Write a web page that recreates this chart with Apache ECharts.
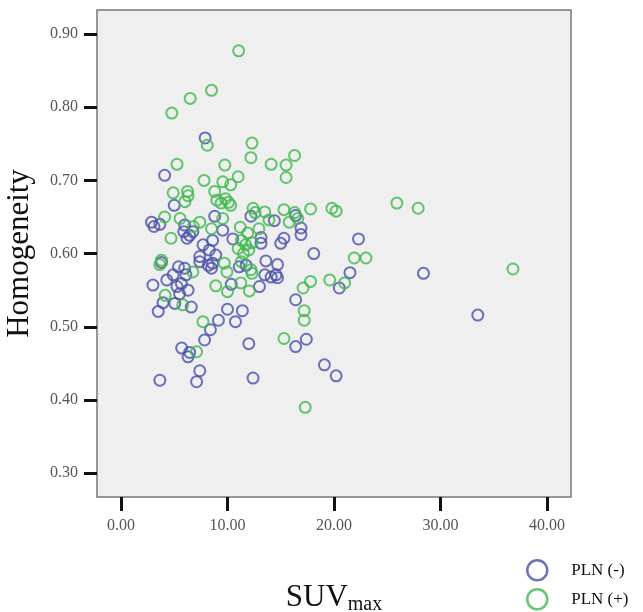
<!DOCTYPE html>
<html lang="en">
<head>
  <meta charset="UTF-8">
  <title>Homogeneity vs SUVmax</title>
  <script src="https://cdn.jsdelivr.net/npm/echarts@6/dist/echarts.min.js"></script>
  <style>
    html, body { margin: 0; padding: 0; background: #fff; }
    #chart { width: 643px; height: 612px; }
  </style>
</head>
<body>
  <div id="chart"></div>
  <script>
    // ticks
    var xTicks = [0, 10, 20, 30, 40];
    var yTicks = [0.3, 0.4, 0.5, 0.6, 0.7, 0.8, 0.9];

    // PLN (-) : [SUVmax, homogeneity]
    var plnNeg = [
      [7.9, 0.758], [4.1, 0.707], [5.0, 0.666], [2.87, 0.643], [3.1, 0.637],
      [3.65, 0.640], [5.98, 0.639], [5.9, 0.630], [6.45, 0.625], [6.2, 0.621],
      [6.75, 0.630], [8.8, 0.651], [9.55, 0.632], [8.6, 0.618], [7.7, 0.612],
      [7.4, 0.596], [8.3, 0.605], [8.9, 0.598], [10.5, 0.620], [12.2, 0.651],
      [13.15, 0.622], [13.15, 0.614], [14.4, 0.645], [16.4, 0.652], [16.9, 0.635],
      [16.9, 0.626], [15.3, 0.621], [15.0, 0.614], [18.1, 0.600], [22.3, 0.620],
      [21.5, 0.574], [28.4, 0.573], [20.5, 0.553], [16.4, 0.537], [17.4, 0.483],
      [16.4, 0.473], [33.5, 0.516], [19.1, 0.448], [20.2, 0.433], [12.4, 0.430],
      [12.0, 0.477], [10.0, 0.524], [11.4, 0.522], [9.15, 0.509], [10.75, 0.507],
      [8.4, 0.496], [7.85, 0.482], [5.7, 0.471], [6.45, 0.465], [6.3, 0.459],
      [7.4, 0.440], [7.1, 0.425], [3.65, 0.427], [3.8, 0.588], [5.4, 0.582],
      [5.98, 0.580], [7.4, 0.589], [8.2, 0.584], [8.6, 0.587], [3.0, 0.557],
      [4.3, 0.564], [4.9, 0.571], [5.26, 0.555], [5.67, 0.559], [6.3, 0.550],
      [5.05, 0.532], [3.95, 0.533], [3.5, 0.521], [6.6, 0.527], [11.1, 0.582],
      [11.75, 0.584], [13.6, 0.590], [14.7, 0.585], [13.5, 0.571], [14.1, 0.568],
      [14.55, 0.571], [14.7, 0.567], [10.35, 0.558], [13.0, 0.555], [6.1, 0.571],
      [5.5, 0.545], [8.5, 0.580]
    ];

    // PLN (+) : [SUVmax, homogeneity]
    var plnPos = [
      [11.05, 0.877], [8.5, 0.823], [6.5, 0.812], [4.77, 0.792], [8.1, 0.748],
      [12.3, 0.751], [12.2, 0.731], [16.3, 0.734], [14.1, 0.722], [15.5, 0.721],
      [15.5, 0.704], [5.26, 0.722], [7.8, 0.700], [9.75, 0.721], [11.0, 0.705],
      [9.56, 0.698], [10.3, 0.694], [4.9, 0.683], [6.25, 0.685], [6.3, 0.679],
      [6.0, 0.671], [8.8, 0.685], [9.0, 0.673], [9.4, 0.669], [9.8, 0.675],
      [10.1, 0.670], [10.3, 0.666], [17.8, 0.661], [12.4, 0.662], [12.6, 0.656],
      [13.5, 0.657], [15.3, 0.660], [16.3, 0.656], [16.6, 0.648], [13.9, 0.646],
      [15.8, 0.643], [4.1, 0.650], [5.55, 0.648], [7.4, 0.643], [6.8, 0.637],
      [4.7, 0.621], [8.5, 0.634], [9.55, 0.648], [11.2, 0.636], [12.95, 0.634],
      [11.9, 0.628], [11.3, 0.618], [11.7, 0.612], [11.0, 0.607], [12.0, 0.605],
      [11.5, 0.600], [12.3, 0.615], [19.8, 0.662], [20.2, 0.658], [25.9, 0.669],
      [27.9, 0.662], [21.9, 0.594], [23.0, 0.594], [36.8, 0.579], [17.8, 0.562],
      [19.6, 0.564], [21.0, 0.560], [17.1, 0.553], [17.2, 0.522], [17.2, 0.509],
      [15.3, 0.484], [17.3, 0.390], [3.65, 0.585], [3.8, 0.591], [6.75, 0.575],
      [4.15, 0.543], [5.8, 0.530], [9.7, 0.587], [9.95, 0.575], [8.9, 0.556],
      [10.0, 0.548], [11.25, 0.560], [11.3, 0.589], [12.2, 0.578], [12.3, 0.573],
      [12.05, 0.549], [7.7, 0.507], [7.1, 0.466]
    ];

    var blue = '#4850aa';
    var green = '#3db84c';
    var serif = 'Liberation Serif';

    var chart = echarts.init(document.getElementById('chart'), null, { renderer: 'canvas' });

    // one legend box per group, stacked like the SPSS legend
    function legendBox(name, color, top) {
      return {
        orient: 'vertical',
        left: 526,
        top: top,
        padding: 0,
        itemWidth: 24,
        itemHeight: 20,
        icon: 'circle',
        textStyle: { fontFamily: serif, fontSize: 17, color: '#111', padding: [0, 0, 0, 17] },
        data: [{ name: name, itemStyle: { color: 'rgba(0,0,0,0)', borderColor: color, borderWidth: 2.5 } }]
      };
    }

    var option = {
      backgroundColor: '#fff',
      animation: false,
      grid: {
        left: 97, top: 10, width: 474, height: 487,
        containLabel: false,
        outerBoundsMode: 'none',
        show: true,
        backgroundColor: '#efefef',
        borderColor: '#777',
        borderWidth: 1.5
      },
      legend: [
        legendBox('PLN (-)', blue, 559),
        legendBox('PLN (+)', green, 588)
      ],
      xAxis: {
        type: 'value',
        min: -2.25,
        max: 42.25,
        name: '{a|SUV}{b|max}',
        nameLocation: 'middle',
        nameGap: 84,
        nameTextStyle: {
          rich: {
            a: { fontFamily: serif, fontSize: 31, color: '#111' },
            b: { fontFamily: serif, fontSize: 20, color: '#111', padding: [14, 0, 0, 0] }
          }
        },
        axisLine: { show: false, onZero: false },
        splitLine: { show: false },
        axisTick: {
          show: true, length: 14, customValues: xTicks,
          lineStyle: { color: '#111', width: 3 }
        },
        axisLabel: {
          customValues: xTicks,
          margin: 21,
          fontFamily: serif, fontSize: 16, color: '#555',
          formatter: function (v) { return v.toFixed(2); }
        }
      },
      yAxis: {
        type: 'value',
        min: 0.2675,
        max: 0.9328,
        name: 'Homogeneity',
        nameLocation: 'middle',
        nameRotate: 90,
        nameGap: 62,
        nameTextStyle: { fontFamily: serif, fontSize: 31, color: '#111' },
        axisLine: { show: false, onZero: false },
        splitLine: { show: false },
        axisTick: {
          show: true, length: 13, customValues: yTicks,
          lineStyle: { color: '#111', width: 3 }
        },
        axisLabel: {
          customValues: yTicks,
          margin: 19,
          fontFamily: serif, fontSize: 16, color: '#555',
          formatter: function (v) { return v.toFixed(2); }
        }
      },
      series: [
        {
          name: 'PLN (-)',
          type: 'scatter',
          symbol: 'circle',
          symbolSize: 11,
          itemStyle: { color: 'rgba(0,0,0,0)', borderColor: blue, borderWidth: 2 },
          data: plnNeg
        },
        {
          name: 'PLN (+)',
          type: 'scatter',
          symbol: 'circle',
          symbolSize: 11,
          itemStyle: { color: 'rgba(0,0,0,0)', borderColor: green, borderWidth: 2 },
          data: plnPos
        }
      ]
    };

    chart.setOption(option);
  </script>
</body>
</html>
